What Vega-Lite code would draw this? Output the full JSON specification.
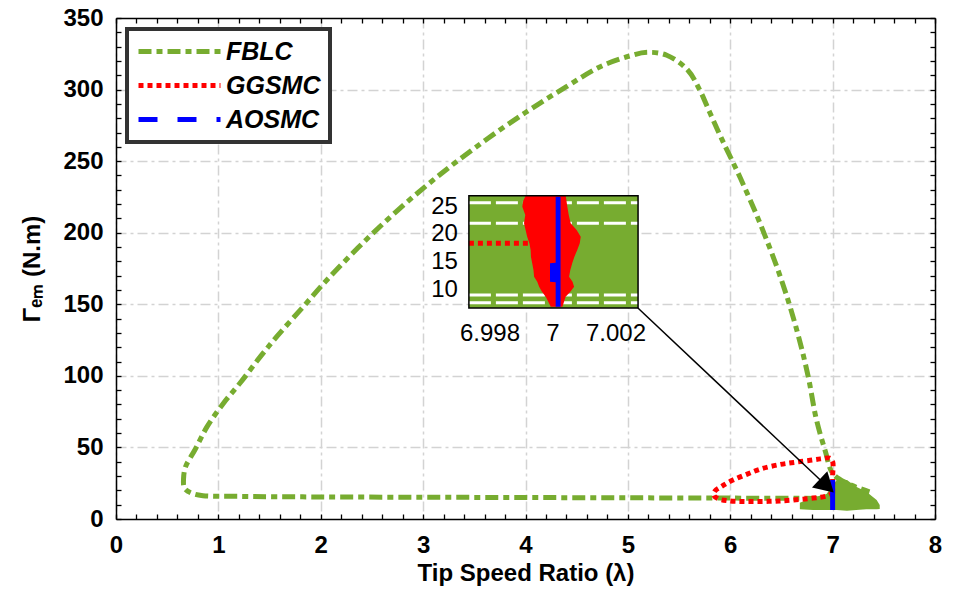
{
  "$schema": "https://vega.github.io/schema/vega-lite/v6.json",
  "width": 819,
  "height": 501,
  "autosize": {"type": "none"},
  "padding": {"left": 116, "top": 18, "right": 19, "bottom": 86},
  "background": "white",
  "config": {
    "view": {"stroke": null},
    "axis": {
      "labelFont": "Liberation Sans", "labelFontSize": 24, "labelFontWeight": "bold", "labelColor": "black",
      "titleFont": "Liberation Sans", "titleFontSize": 24, "titleFontWeight": "bold", "titleColor": "black",
      "domainColor": "black", "domainWidth": 1.5, "tickColor": "black", "tickWidth": 1.3, "grid": false,
      "labelOverlap": false
    },
    "legend": {
      "title": null, "orient": "top-left", "offset": 11,
      "strokeColor": "#333333", "strokeWidth": 4, "fillColor": "white",
      "padding": 9, "rowPadding": 7, "symbolType": "stroke", "symbolSize": 6724, "symbolStrokeWidth": 5,
      "clipHeight": 27, "labelFont": "Liberation Sans", "labelFontSize": 25, "labelFontWeight": "bold",
      "labelFontStyle": "italic", "labelColor": "black", "labelOffset": 3, "symbolOffset": 0
    }
  },
  "datasets": {
    "fblc": [
      {"series": "FBLC", "i": 0, "x": 6.85, "y": 14.4},
      {"series": "FBLC", "i": 1, "x": 6.0, "y": 14.6},
      {"series": "FBLC", "i": 2, "x": 5.0, "y": 14.8},
      {"series": "FBLC", "i": 3, "x": 4.0, "y": 15.0},
      {"series": "FBLC", "i": 4, "x": 3.0, "y": 15.2},
      {"series": "FBLC", "i": 5, "x": 2.0, "y": 15.4},
      {"series": "FBLC", "i": 6, "x": 1.2, "y": 15.8},
      {"series": "FBLC", "i": 7, "x": 0.85, "y": 16.3},
      {"series": "FBLC", "i": 8, "x": 0.74, "y": 18.0},
      {"series": "FBLC", "i": 9, "x": 0.67, "y": 21.4},
      {"series": "FBLC", "i": 10, "x": 0.66, "y": 28.4},
      {"series": "FBLC", "i": 11, "x": 0.68, "y": 36.6},
      {"series": "FBLC", "i": 12, "x": 0.77, "y": 48.2},
      {"series": "FBLC", "i": 13, "x": 0.89, "y": 64.5},
      {"series": "FBLC", "i": 14, "x": 1.05, "y": 80.9},
      {"series": "FBLC", "i": 15, "x": 1.21, "y": 94.8},
      {"series": "FBLC", "i": 16, "x": 1.41, "y": 113.4},
      {"series": "FBLC", "i": 17, "x": 1.57, "y": 127.4},
      {"series": "FBLC", "i": 18, "x": 1.83, "y": 148.4},
      {"series": "FBLC", "i": 19, "x": 2.06, "y": 167},
      {"series": "FBLC", "i": 20, "x": 2.5, "y": 199},
      {"series": "FBLC", "i": 21, "x": 3.0, "y": 231},
      {"series": "FBLC", "i": 22, "x": 3.5, "y": 259},
      {"series": "FBLC", "i": 23, "x": 4.0, "y": 284},
      {"series": "FBLC", "i": 24, "x": 4.4, "y": 302},
      {"series": "FBLC", "i": 25, "x": 4.73, "y": 316},
      {"series": "FBLC", "i": 26, "x": 5.02, "y": 323.5},
      {"series": "FBLC", "i": 27, "x": 5.19, "y": 326},
      {"series": "FBLC", "i": 28, "x": 5.38, "y": 324},
      {"series": "FBLC", "i": 29, "x": 5.58, "y": 314},
      {"series": "FBLC", "i": 30, "x": 5.70, "y": 300},
      {"series": "FBLC", "i": 31, "x": 5.80, "y": 284},
      {"series": "FBLC", "i": 32, "x": 5.92, "y": 265},
      {"series": "FBLC", "i": 33, "x": 6.1, "y": 238},
      {"series": "FBLC", "i": 34, "x": 6.3, "y": 205},
      {"series": "FBLC", "i": 35, "x": 6.5, "y": 167},
      {"series": "FBLC", "i": 36, "x": 6.65, "y": 132},
      {"series": "FBLC", "i": 37, "x": 6.76, "y": 100},
      {"series": "FBLC", "i": 38, "x": 6.84, "y": 70},
      {"series": "FBLC", "i": 39, "x": 6.93, "y": 47},
      {"series": "FBLC", "i": 40, "x": 7.0, "y": 32},
      {"series": "FBLC", "i": 41, "x": 7.14, "y": 25},
      {"series": "FBLC", "i": 42, "x": 7.36, "y": 19}
    ],
    "blob": [
      {"x": 6.68, "ytop": 11.4, "ybot": 6.8},
      {"x": 6.81, "ytop": 15.1, "ybot": 6.3},
      {"x": 6.94, "ytop": 17.5, "ybot": 6.3},
      {"x": 7.04, "ytop": 27.3, "ybot": 6.3},
      {"x": 7.14, "ytop": 27.3, "ybot": 5.8},
      {"x": 7.23, "ytop": 22.6, "ybot": 6.3},
      {"x": 7.33, "ytop": 19.1, "ybot": 6.8},
      {"x": 7.43, "ytop": 13.3, "ybot": 6.8},
      {"x": 7.46, "ytop": 9.8, "ybot": 7.0}
    ],
    "ggsmc": [
      {"series": "GGSMC", "i": 0, "x": 7.0, "y": 18},
      {"series": "GGSMC", "i": 1, "x": 7.0, "y": 30},
      {"series": "GGSMC", "i": 2, "x": 7.0, "y": 40},
      {"series": "GGSMC", "i": 3, "x": 6.97, "y": 42.5},
      {"series": "GGSMC", "i": 4, "x": 6.88, "y": 42},
      {"series": "GGSMC", "i": 5, "x": 6.78, "y": 41},
      {"series": "GGSMC", "i": 6, "x": 6.62, "y": 39.5},
      {"series": "GGSMC", "i": 7, "x": 6.48, "y": 38},
      {"series": "GGSMC", "i": 8, "x": 6.3, "y": 35},
      {"series": "GGSMC", "i": 9, "x": 6.16, "y": 31.2},
      {"series": "GGSMC", "i": 10, "x": 6.02, "y": 27},
      {"series": "GGSMC", "i": 11, "x": 5.92, "y": 23},
      {"series": "GGSMC", "i": 12, "x": 5.85, "y": 19.5},
      {"series": "GGSMC", "i": 13, "x": 5.84, "y": 16.5},
      {"series": "GGSMC", "i": 14, "x": 5.88, "y": 14.2},
      {"series": "GGSMC", "i": 15, "x": 5.97, "y": 12.8},
      {"series": "GGSMC", "i": 16, "x": 6.16, "y": 12.2},
      {"series": "GGSMC", "i": 17, "x": 6.48, "y": 12.6},
      {"series": "GGSMC", "i": 18, "x": 6.81, "y": 14.6},
      {"series": "GGSMC", "i": 19, "x": 6.94, "y": 16},
      {"series": "GGSMC", "i": 20, "x": 7.0, "y": 18}
    ],
    "aosmc": [
      {"series": "AOSMC", "i": 0, "x": 7.0, "y": 6.3},
      {"series": "AOSMC", "i": 1, "x": 7.0, "y": 27.3}
    ],
    "arrow": [
      {"i": 0, "x": 5.098, "y": 147.4},
      {"i": 1, "x": 6.942, "y": 23.1}
    ],
    "arrowhead": [
      {"x": 6.942, "y": 23.1}
    ],
    "inset_box": [
      {"x1": 6.99733, "x2": 7.0027, "y1": 6.77, "y2": 26.98}
    ],
    "inset_xticks": [
      {"v": 6.998, "t": "6.998"},
      {"v": 7.0, "t": "7"},
      {"v": 7.002, "t": "7.002"}
    ],
    "inset_yticks": [
      {"v": 10, "t": "10"},
      {"v": 15, "t": "15"},
      {"v": 20, "t": "20"},
      {"v": 25, "t": "25"}
    ],
    "inset_white": [
      {"from": 6.99733, "to": 7.0027, "iy": 25.7},
      {"from": 6.99733, "to": 7.0027, "iy": 22.0},
      {"from": 6.99733, "to": 7.0027, "iy": 9.1},
      {"from": 6.99733, "to": 7.0027, "iy": 7.7}
    ],
    "inset_red": [
      {"iy": 27.0, "xl": 6.999133, "xr": 7.000403},
      {"iy": 26.0, "xl": 6.99905, "xr": 7.00043},
      {"iy": 25.0, "xl": 6.999026, "xr": 7.000455},
      {"iy": 23.5, "xl": 6.99912, "xr": 7.0005},
      {"iy": 22.0, "xl": 6.99908, "xr": 7.00056},
      {"iy": 20.8, "xl": 6.99913, "xr": 7.00075},
      {"iy": 19.6, "xl": 6.99918, "xr": 7.00088},
      {"iy": 18.4, "xl": 6.99925, "xr": 7.00085},
      {"iy": 17.2, "xl": 6.99929, "xr": 7.00077},
      {"iy": 16.0, "xl": 6.9993, "xr": 7.00068},
      {"iy": 14.8, "xl": 6.99934, "xr": 7.00061},
      {"iy": 13.6, "xl": 6.99938, "xr": 7.00055},
      {"iy": 12.4, "xl": 6.9994, "xr": 7.00051},
      {"iy": 11.5, "xl": 6.9995, "xr": 7.00062},
      {"iy": 10.6, "xl": 6.99956, "xr": 7.00067},
      {"iy": 9.7, "xl": 6.99965, "xr": 7.00055},
      {"iy": 8.8, "xl": 6.99977, "xr": 7.0004},
      {"iy": 7.9, "xl": 6.99985, "xr": 7.00035},
      {"iy": 7.0, "xl": 6.99993, "xr": 7.0003}
    ],
    "inset_blue": [
      {"iy": 26.8, "xl": 7.000085, "xr": 7.00024},
      {"iy": 14.9, "xl": 7.000085, "xr": 7.00024},
      {"iy": 14.8, "xl": 6.999905, "xr": 7.00024},
      {"iy": 11.5, "xl": 6.999905, "xr": 7.00024},
      {"iy": 11.4, "xl": 7.000085, "xr": 7.00024},
      {"iy": 7.0, "xl": 7.000085, "xr": 7.00024}
    ],
    "inset_redline": [
      {"ix": 6.99733, "iy": 18.4},
      {"ix": 6.99929, "iy": 18.4}
    ]
  },
  "resolve": {"scale": {"x": "independent", "y": "independent"}},
  "layer": [
    {
      "resolve": {"axis": {"x": "independent", "y": "independent"}},
      "layer": [
        {
          "data": {"name": "blob"},
          "mark": {"type": "area", "color": "#77AC30", "orient": "vertical"},
          "encoding": {
            "x": {"field": "x", "type": "quantitative",
              "axis": {"orient": "bottom", "values": [0, 1, 2, 3, 4, 5, 6, 7, 8], "format": "d", "grid": true, "labels": true, "ticks": false, "domain": false,
                "labelPadding": 14, "labelOverlap": false, "labelFlush": false,
                "title": "Tip Speed Ratio (λ)", "titlePadding": 4,
                "gridDash": [10, 4, 3, 4], "gridColor": "#d3d3d3", "gridWidth": 1.5}},
            "y": {"field": "ytop", "type": "quantitative",
              "axis": {"orient": "left", "values": [50, 100, 150, 200, 250, 300], "grid": true, "labels": false, "ticks": false, "domain": false, "title": null,
                "gridDash": [10, 4, 3, 4], "gridColor": "#d3d3d3", "gridWidth": 1.5}},
            "y2": {"field": "ybot"}
          }
        },
        {
          "data": {"name": "fblc"},
          "mark": {"type": "line", "strokeWidth": 5, "interpolate": "catmull-rom"},
          "encoding": {
            "x": {"field": "x", "type": "quantitative", "scale": {"domain": [0, 8], "nice": false, "zero": false},
              "axis": {"orient": "bottom", "values": [0, 0.2, 0.4, 0.6, 0.8, 1, 1.2, 1.4, 1.6, 1.8, 2, 2.2, 2.4, 2.6, 2.8, 3, 3.2, 3.4, 3.6, 3.8, 4, 4.2, 4.4, 4.6, 4.8, 5, 5.2, 5.4, 5.6, 5.8, 6, 6.2, 6.4, 6.6, 6.8, 7, 7.2, 7.4, 7.6, 7.8, 8],
                "labels": false, "tickSize": -5, "title": null}},
            "y": {"field": "y", "type": "quantitative", "scale": {"domain": [0, 350], "nice": false, "zero": false},
              "axis": {"orient": "left", "values": [0, 10, 20, 30, 40, 50, 60, 70, 80, 90, 100, 110, 120, 130, 140, 150, 160, 170, 180, 190, 200, 210, 220, 230, 240, 250, 260, 270, 280, 290, 300, 310, 320, 330, 340, 350],
                "format": "d", "labelExpr": "datum.value % 50 === 0 ? datum.label : ''", "tickSize": -5, "labelPadding": 18,
                "labelOverlap": false, "labelFlush": false,
                "title": "Γₑₘ (N.m)", "titlePadding": 18}},
            "color": {"field": "series", "type": "nominal",
              "scale": {"domain": ["FBLC", "GGSMC", "AOSMC"], "range": ["#77AC30", "#FF0000", "#0000FF"]}},
            "strokeDash": {"field": "series", "type": "nominal",
              "scale": {"domain": ["FBLC", "GGSMC", "AOSMC"], "range": [[13, 5, 6, 5], [5, 4], [19, 20]]}},
            "order": {"field": "i", "type": "quantitative"}
          }
        },
        {
          "data": {"name": "ggsmc"},
          "mark": {"type": "line", "strokeWidth": 5, "interpolate": "catmull-rom"},
          "encoding": {
            "x": {"field": "x", "type": "quantitative",
              "axis": {"orient": "top", "values": [0, 0.2, 0.4, 0.6, 0.8, 1, 1.2, 1.4, 1.6, 1.8, 2, 2.2, 2.4, 2.6, 2.8, 3, 3.2, 3.4, 3.6, 3.8, 4, 4.2, 4.4, 4.6, 4.8, 5, 5.2, 5.4, 5.6, 5.8, 6, 6.2, 6.4, 6.6, 6.8, 7, 7.2, 7.4, 7.6, 7.8, 8],
                "labels": false, "tickSize": -5, "title": null}},
            "y": {"field": "y", "type": "quantitative",
              "axis": {"orient": "right", "values": [0, 10, 20, 30, 40, 50, 60, 70, 80, 90, 100, 110, 120, 130, 140, 150, 160, 170, 180, 190, 200, 210, 220, 230, 240, 250, 260, 270, 280, 290, 300, 310, 320, 330, 340, 350],
                "labels": false, "tickSize": -5, "title": null}},
            "color": {"field": "series", "type": "nominal"},
            "strokeDash": {"field": "series", "type": "nominal"},
            "order": {"field": "i", "type": "quantitative"}
          }
        },
        {
          "data": {"name": "aosmc"},
          "mark": {"type": "line", "strokeWidth": 5},
          "encoding": {
            "x": {"field": "x", "type": "quantitative", "axis": null},
            "y": {"field": "y", "type": "quantitative", "axis": null},
            "color": {"field": "series", "type": "nominal"},
            "order": {"field": "i", "type": "quantitative"}
          }
        },
        {
          "data": {"name": "arrow"},
          "mark": {"type": "line", "color": "black", "strokeWidth": 1.5},
          "encoding": {
            "x": {"field": "x", "type": "quantitative", "axis": null},
            "y": {"field": "y", "type": "quantitative", "axis": null},
            "order": {"field": "i", "type": "quantitative"}
          }
        },
        {
          "data": {"name": "arrowhead"},
          "mark": {"type": "point", "shape": "triangle-right", "filled": true, "color": "black", "size": 500, "angle": 43.3, "opacity": 1},
          "encoding": {
            "x": {"field": "x", "type": "quantitative", "axis": null},
            "y": {"field": "y", "type": "quantitative", "axis": null}
          }
        }
      ]
    },
    {
      "layer": [
        {
          "data": {"name": "inset_box"},
          "mark": {"type": "rect", "fill": "#77AC30"},
          "encoding": {
            "x": {"field": "x1", "type": "quantitative", "scale": {"domain": [6.986127, 7.012127], "nice": false, "zero": false}, "axis": null},
            "x2": {"field": "x2"},
            "y": {"field": "y1", "type": "quantitative", "scale": {"domain": [-31.22, 58.97], "nice": false, "zero": false}, "axis": null},
            "y2": {"field": "y2"}
          }
        },
        {
          "data": {"name": "inset_white"},
          "mark": {"type": "rule", "color": "white", "strokeWidth": 3, "strokeDash": [22, 5]},
          "encoding": {
            "x": {"field": "from", "type": "quantitative", "axis": null},
            "x2": {"field": "to"},
            "y": {"field": "iy", "type": "quantitative", "axis": null}
          }
        },
        {
          "data": {"name": "inset_red"},
          "mark": {"type": "area", "orient": "horizontal", "color": "#FF0000"},
          "encoding": {
            "y": {"field": "iy", "type": "quantitative", "axis": null},
            "x": {"field": "xl", "type": "quantitative", "axis": null},
            "x2": {"field": "xr"}
          }
        },
        {
          "data": {"name": "inset_redline"},
          "mark": {"type": "line", "color": "#FF0000", "strokeWidth": 5, "strokeDash": [5, 4]},
          "encoding": {
            "x": {"field": "ix", "type": "quantitative", "axis": null},
            "y": {"field": "iy", "type": "quantitative", "axis": null}
          }
        },
        {
          "data": {"name": "inset_blue"},
          "mark": {"type": "area", "orient": "horizontal", "color": "#0000FF"},
          "encoding": {
            "y": {"field": "iy", "type": "quantitative", "axis": null},
            "x": {"field": "xl", "type": "quantitative", "axis": null},
            "x2": {"field": "xr"}
          }
        },
        {
          "data": {"name": "inset_box"},
          "mark": {"type": "rect", "fillOpacity": 0, "stroke": "black", "strokeWidth": 1.5},
          "encoding": {
            "x": {"field": "x1", "type": "quantitative", "axis": null},
            "x2": {"field": "x2"},
            "y": {"field": "y1", "type": "quantitative", "axis": null},
            "y2": {"field": "y2"}
          }
        },
        {
          "data": {"name": "inset_xticks"},
          "mark": {"type": "text", "font": "Liberation Sans", "fontSize": 24, "color": "black", "baseline": "top", "align": "center", "dy": 14},
          "encoding": {
            "x": {"field": "v", "type": "quantitative", "axis": null},
            "y": {"datum": 6.77, "type": "quantitative", "axis": null},
            "text": {"field": "t"}
          }
        },
        {
          "data": {"name": "inset_yticks"},
          "mark": {"type": "text", "font": "Liberation Sans", "fontSize": 24, "color": "black", "baseline": "middle", "align": "right", "dx": -11},
          "encoding": {
            "x": {"datum": 6.99733, "type": "quantitative", "axis": null},
            "y": {"field": "v", "type": "quantitative", "axis": null},
            "text": {"field": "t"}
          }
        }
      ]
    }
  ]
}
